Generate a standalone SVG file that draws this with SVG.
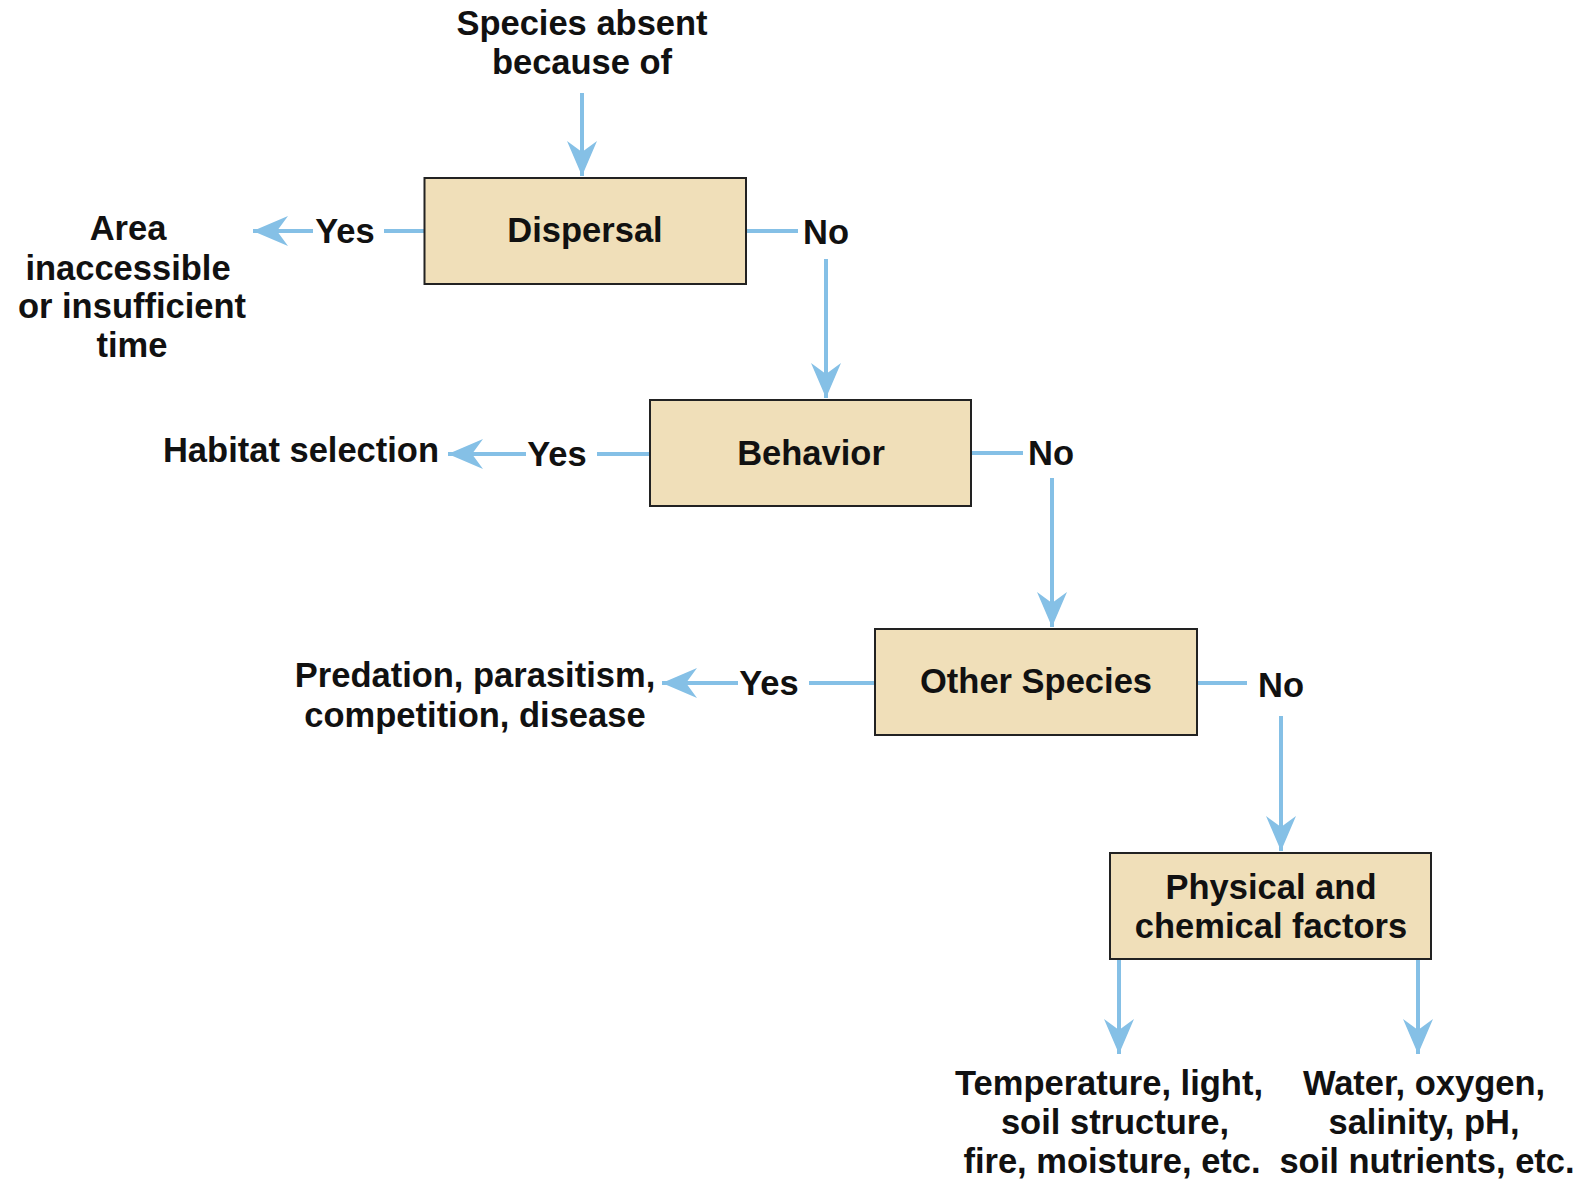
<svg xmlns="http://www.w3.org/2000/svg" width="1585" height="1180" viewBox="0 0 1585 1180">
<defs>
<style>
.t{font-family:"Liberation Sans",Arial,sans-serif;font-weight:bold;font-size:34.5px;fill:#111;text-anchor:middle}
.box{fill:#f0dfb9;stroke:#222;stroke-width:2}
.ln{stroke:#85c0e6;stroke-width:4;fill:none}
</style>
<marker id="ah" markerUnits="userSpaceOnUse" viewBox="-36 -16 38 32" refX="0" refY="0" markerWidth="38" markerHeight="32" orient="auto">
<path d="M0,0 L-35,-15 L-24,0 L-35,15 Z" fill="#85c0e6"/>
</marker>
</defs>
<rect width="1585" height="1180" fill="#fff"/>
<g id="title">
<text class="t" x="582" y="35">Species absent</text>
<text class="t" x="582" y="74">because of</text>
</g>
<g id="connectors">
<line class="ln" x1="582" y1="93" x2="582" y2="176" marker-end="url(#ah)"/>
<line class="ln" x1="424" y1="231" x2="384" y2="231"/>
<line class="ln" x1="313" y1="231" x2="253" y2="231" marker-end="url(#ah)"/>
<line class="ln" x1="746" y1="231" x2="798" y2="231"/>
<line class="ln" x1="826" y1="259" x2="826" y2="398" marker-end="url(#ah)"/>
<line class="ln" x1="650" y1="454" x2="597" y2="454"/>
<line class="ln" x1="526" y1="454" x2="448" y2="454" marker-end="url(#ah)"/>
<line class="ln" x1="971" y1="453" x2="1023" y2="453"/>
<line class="ln" x1="1052" y1="478" x2="1052" y2="627" marker-end="url(#ah)"/>
<line class="ln" x1="875" y1="683" x2="809" y2="683"/>
<line class="ln" x1="738" y1="683" x2="662" y2="683" marker-end="url(#ah)"/>
<line class="ln" x1="1197" y1="683" x2="1247" y2="683"/>
<line class="ln" x1="1281" y1="716" x2="1281" y2="851" marker-end="url(#ah)"/>
<line class="ln" x1="1119" y1="959" x2="1119" y2="1054" marker-end="url(#ah)"/>
<line class="ln" x1="1418" y1="959" x2="1418" y2="1054" marker-end="url(#ah)"/>
<text class="t" x="345" y="243">Yes</text>
<text class="t" x="826" y="244">No</text>
<text class="t" x="557" y="466">Yes</text>
<text class="t" x="1051" y="465">No</text>
<text class="t" x="769" y="695">Yes</text>
<text class="t" x="1281" y="697">No</text>
</g>
<g id="dispersal">
<rect class="box" x="424.5" y="178" width="321.5" height="106"/>
<text class="t" x="585" y="242">Dispersal</text>
</g>
<g id="area">
<text class="t" x="128" y="240">Area</text>
<text class="t" x="128" y="280">inaccessible</text>
<text class="t" x="132" y="318">or insufficient</text>
<text class="t" x="132" y="357">time</text>
</g>
<g id="behavior">
<rect class="box" x="650" y="400" width="321" height="106"/>
<text class="t" x="811" y="465">Behavior</text>
</g>
<g id="habitat">
<text class="t" x="301" y="462">Habitat selection</text>
</g>
<g id="other">
<rect class="box" x="875" y="629" width="322" height="106"/>
<text class="t" x="1036" y="693">Other Species</text>
</g>
<g id="predation">
<text class="t" x="475" y="687">Predation, parasitism,</text>
<text class="t" x="475" y="727">competition, disease</text>
</g>
<g id="physical">
<rect class="box" x="1110" y="853" width="321" height="106"/>
<text class="t" x="1271" y="899">Physical and</text>
<text class="t" x="1271" y="938">chemical factors</text>
</g>
<g id="temperature">
<text class="t" x="1109" y="1095">Temperature, light,</text>
<text class="t" x="1115" y="1134">soil structure,</text>
<text class="t" x="1112" y="1173">fire, moisture, etc.</text>
</g>
<g id="water">
<text class="t" x="1424" y="1095">Water, oxygen,</text>
<text class="t" x="1424" y="1134">salinity, pH,</text>
<text class="t" x="1427" y="1173">soil nutrients, etc.</text>
</g>
</svg>
